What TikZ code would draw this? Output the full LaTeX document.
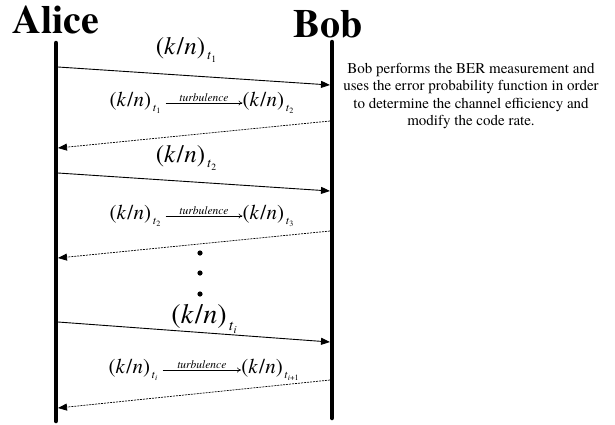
\documentclass[tikz,border=0pt]{standalone}
\usepackage{fontspec}
\setmainfont{TeX Gyre Termes}
\usetikzlibrary{arrows.meta}
\newcommand{\kn}[1]{(\textit{k}\kern0.05em/\kern0.02em\textit{n})\kern0.08em\raisebox{-0.5ex}{\scalebox{0.55}{\textit{t}\raisebox{-0.45ex}{\scalebox{0.7}{#1}}}}}

\begin{document}
\begin{tikzpicture}[x=1pt, y=-1pt,
    life/.style={line width=4.5pt, line cap=round},
    msg/.style={line width=0.9pt, -{Triangle[length=9pt,width=7pt]}},
    ack/.style={line width=0.7pt, dash pattern=on 2pt off 1pt,
                -{Triangle[length=9pt,width=7pt]}},
    turb/.style={line width=0.6pt, -{To[length=4pt,width=5pt]}},
    who/.style={font=\fontsize{40}{42}\selectfont\bfseries, anchor=base},
    rate/.style={font=\fontsize{25}{27}\selectfont, inner sep=0pt},
    drift/.style={font=\fontsize{21}{23}\selectfont, inner sep=0pt},
    tiny/.style={font=\fontsize{11.5}{12}\selectfont\itshape, inner sep=1.5pt}]
  \useasboundingbox (0,0) rectangle (615,424);

  % the two parties and their time lines
  \node[who] (alice) at (56,33) {Alice};
  \node[who] (bob)   at (328,37) {Bob};
  \coordinate (atop) at (56,43);  \coordinate (abot) at (56,421);
  \coordinate (btop) at (332,42); \coordinate (bbot) at (332,418);
  \draw[life] (atop) -- (abot);
  \draw[life] (btop) -- (bbot);

  \node[font=\fontsize{15}{17.5}\selectfont, align=center] (note) at (471,96)
    {Bob performs the BER measurement and\\
     uses the error probability function in order\\
     to determine the channel efficiency and\\
     modify the code rate.};

  % points where the messages leave and reach the lines
  \coordinate (a1) at (58,67);  \coordinate (b1) at (330,85);
  \coordinate (b2) at (330,121); \coordinate (a2) at (58,148);
  \coordinate (a3) at (58,173); \coordinate (b3) at (330,191);
  \coordinate (b4) at (330,231); \coordinate (a4) at (58,258);
  \coordinate (a5) at (58,322); \coordinate (b5) at (330,342);
  \coordinate (b6) at (330,380); \coordinate (a6) at (58,408);

  % first round
  \draw[msg] (a1) -- (b1);
  \node[rate] (k1) at (186,50) {\kn{1}};
  \node[drift] (d1a) at (135,103) {\kn{1}};
  \node[drift] (d1b) at (268,103) {\kn{2}};
  \draw[turb] ([xshift=5pt]d1a.east) -- node[above, tiny] (t1) {turbulence} (d1b.west);
  \draw[ack] (b2) -- (a2);

  % second round
  \draw[msg] (a3) -- (b3);
  \node[rate] (k2) at (186,158) {\kn{2}};
  \node[drift] (d2a) at (135,216) {\kn{2}};
  \node[drift] (d2b) at (268,216) {\kn{3}};
  \draw[turb] ([xshift=5pt]d2a.east) -- node[above, tiny] (t2) {turbulence} (d2b.west);
  \draw[ack] (b4) -- (a4);

  \foreach \y in {253,273,294}
    \fill (200,\y) circle (2.6pt);

  % i-th round
  \draw[msg] (a5) -- (b5);
  \node[rate, font=\fontsize{28}{30}\selectfont] (k3) at (204,319) {\kn{\textit{i}}};
  \node[drift] (d3a) at (133,370) {\kn{\textit{i}}};
  \node[drift] (d3b) at (270,370) {\kn{\textit{i}+1}};
  \draw[turb] ([xshift=5pt]d3a.east) -- node[above, tiny] (t3) {turbulence} (d3b.west);
  \draw[ack] (b6) -- (a6);
\end{tikzpicture}
\end{document}
